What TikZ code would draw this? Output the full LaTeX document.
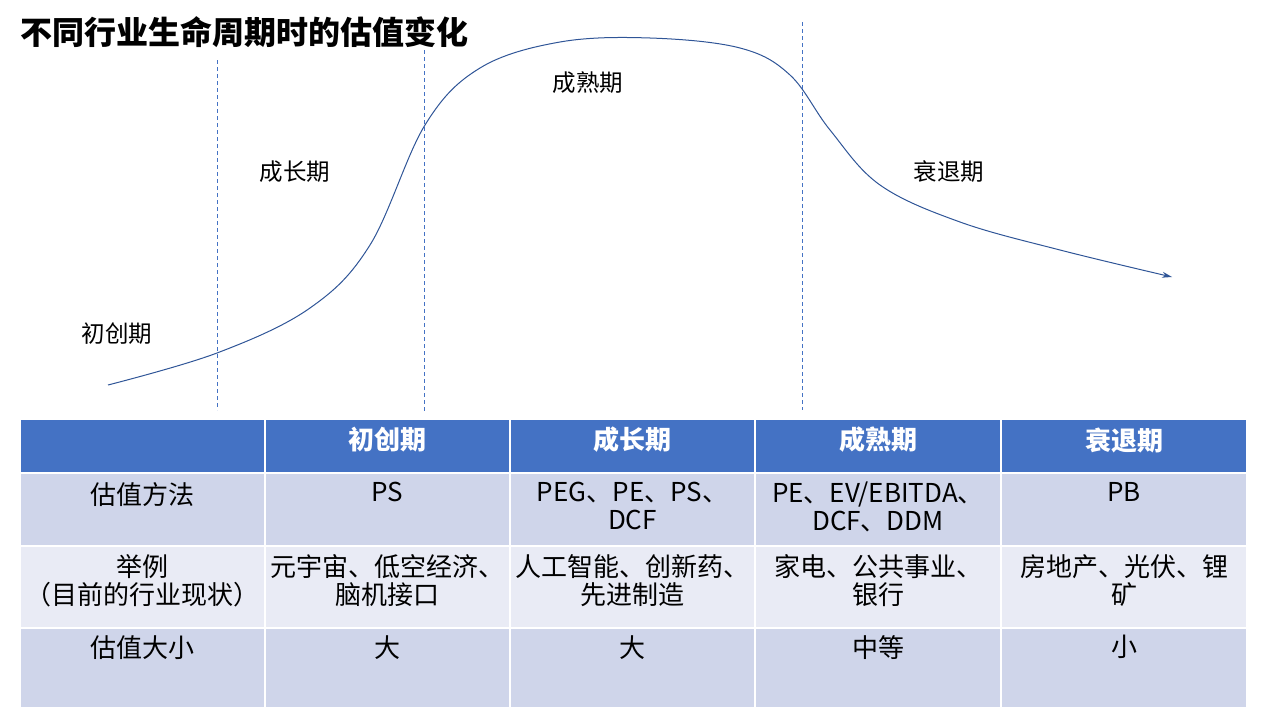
\documentclass[tikz,border=0pt]{standalone}
\usepackage{fontspec}
\setmainfont{Noto Sans CJK SC}
\usetikzlibrary{arrows.meta}
\definecolor{hdr}{HTML}{4472C4}
\definecolor{ra}{HTML}{CFD5EA}
\definecolor{rb}{HTML}{E9EBF5}
\definecolor{crv}{HTML}{2F5597}
\tikzset{
 cell/.style={anchor=north,align=center,font=\fontsize{26}{28}\selectfont,inner sep=0pt},
 hcell/.style={anchor=center,font=\fontsize{26}{28}\selectfont\bfseries,text=white,inner sep=0pt},
 lbl/.style={font=\fontsize{23.5}{26}\selectfont,inner sep=0pt},
 dsh/.style={hdr,dash pattern=on 4pt off 3pt,line width=0.9pt}
}
\begin{document}
\begin{tikzpicture}[x=1pt,y=-1pt]
\useasboundingbox (0,0) rectangle (1280,720);
\node[anchor=west,font=\fontsize{32}{34}\selectfont\bfseries,inner sep=0pt] (title) at (20,32) {不同行业生命周期时的估值变化};
% curve
\draw[crv,line width=1pt,-{Stealth[length=10pt,width=6pt]}] plot[smooth,tension=0.6] coordinates{(108,385) (217,353) (310,308) (370,245) (425,125) (480,68) (560,42) (650,38) (740,48) (790,75) (830,130) (880,185) (960,222) (1060,250) (1172,277)};
\coordinate (d1t) at (217,60); \coordinate (d1b) at (217,410);
\coordinate (d2t) at (424,50); \coordinate (d2b) at (424,412);
\coordinate (d3t) at (802,22); \coordinate (d3b) at (802,410);
\draw[dsh] (d1t)--(d1b); \draw[dsh] (d2t)--(d2b); \draw[dsh] (d3t)--(d3b);
\node[lbl] (l1) at (117,334) {初创期};
\node[lbl] (l2) at (295,172) {成长期};
\node[lbl] (l3) at (588,83) {成熟期};
\node[lbl] (l4) at (949,172) {衰退期};
% table
\foreach \a/\b in {20/265,265/510,510/755,755/1001,1001/1247}{
 \fill[hdr] (\a+1,420) rectangle (\b-1,472);
 \fill[ra] (\a+1,474) rectangle (\b-1,545);
 \fill[rb] (\a+1,547) rectangle (\b-1,627);
 \fill[ra] (\a+1,629) rectangle (\b-1,707);
}
\node[hcell] (h1) at (387.5,440) {初创期};
\node[hcell] (h2) at (632.5,440) {成长期};
\node[hcell] (h3) at (878,440) {成熟期};
\node[hcell] (h4) at (1124,440) {衰退期};
\node[cell] (a0) at (142.5,482) {估值方法};
\node[cell] (a1) at (387.5,482) {PS};
\node[cell] (a2) at (632.5,482) {PEG、PE、PS、\\DCF};
\node[cell] (a3) at (878,482) {PE、EV/EBITDA、\\DCF、DDM};
\node[cell] (a4) at (1124,482) {PB};
\node[cell] (b0) at (142.5,554) {举例\\（目前的行业现状）};
\node[cell] (b1) at (387.5,554) {元宇宙、低空经济、\\脑机接口};
\node[cell] (b2) at (632.5,554) {人工智能、创新药、\\先进制造};
\node[cell] (b3) at (878,554) {家电、公共事业、\\银行};
\node[cell] (b4) at (1124,554) {房地产、光伏、锂\\矿};
\node[cell] (c0) at (142.5,635) {估值大小};
\node[cell] (c1) at (387.5,635) {大};
\node[cell] (c2) at (632.5,635) {大};
\node[cell] (c3) at (878,635) {中等};
\node[cell] (c4) at (1124,635) {小};
\end{tikzpicture}
\end{document}
